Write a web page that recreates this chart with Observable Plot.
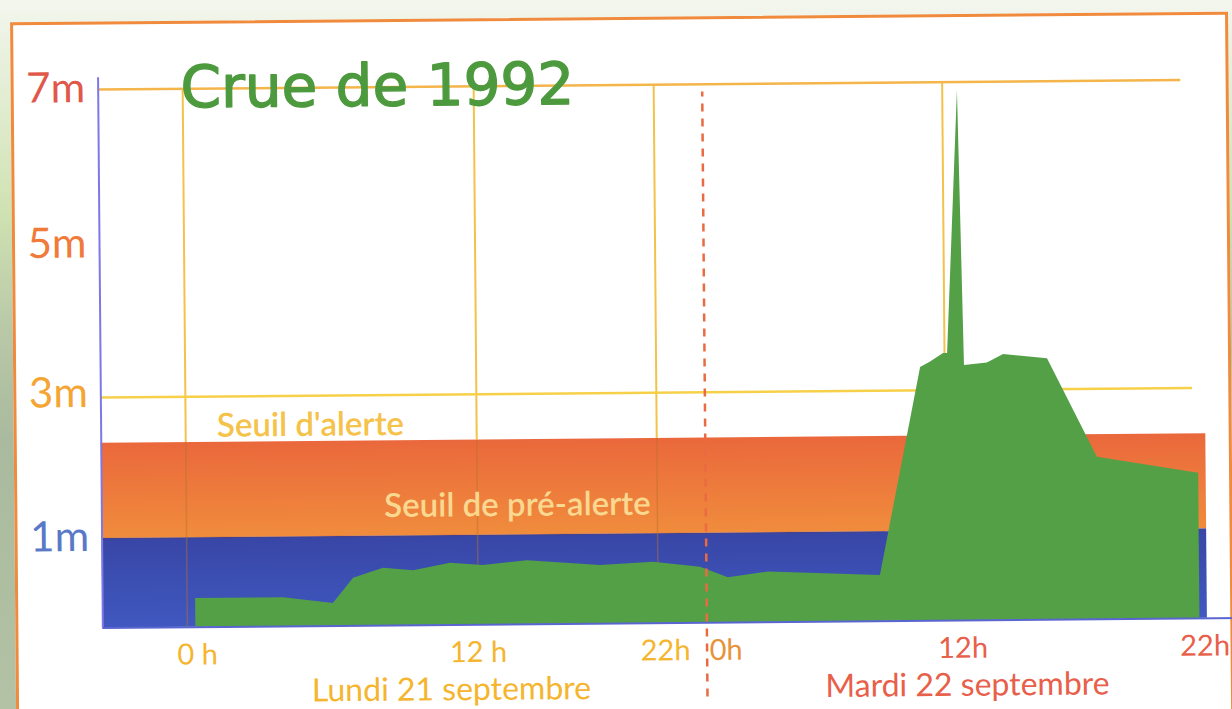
<!DOCTYPE html>
<html><head><meta charset="utf-8">
<script src="https://cdn.jsdelivr.net/npm/d3@7"></script>
<script src="https://cdn.jsdelivr.net/npm/@observablehq/plot@0.6"></script>
<style>
html,body{margin:0;padding:0;width:1232px;height:709px;overflow:hidden;}
body{background:linear-gradient(180deg,#f3f6ee 0%,#e4eed6 12%,#cfe2b2 30%,#b9c9a8 46%,#a9ba9e 62%,#b3c2a4 100%);}
#wrap{position:absolute;left:0;top:0;width:1232px;height:709px;transform:rotate(-0.5deg);transform-origin:616px 354.5px;}
#card{position:absolute;left:13px;top:17px;width:1218px;height:760px;background:#fff;border:3px solid #f08a3c;box-sizing:border-box;}
#chart{position:absolute;left:0;top:0;}
</style></head>
<body><div id="wrap"><div id="card"></div><div id="chart"></div></div>
<script>
// ---- data (hours from Monday 21 Sept 0h, water level in metres) ----
const hours  = [0.35, 3.98, 6.03, 6.87, 8.11, 9.35, 10.87, 12.31, 14.76, 18.82, 21.76, 23.76, 25.1, 27.1, 32.7, 34.8, 35.3, 35.95, 36.12, 36.59, 36.77, 37.66, 38.29, 39.99, 41.89, 45.81];
const levels = [0.32, 0.32, 0.25, 0.53, 0.64, 0.61, 0.69,  0.66,  0.71,  0.65,  0.68,  0.62,  0.50, 0.56, 0.51, 3.30, 3.37, 3.48,  3.48,  6.89,  3.32,  3.35,  3.46,  3.40,  2.03,  1.79];

const preAlerteLevel = 1;      // Seuil de pré-alerte
const alerteLevel = 2.35;      // Seuil d'alerte

const yTickValues = [1, 3, 5, 7];
const yTickLabels = ["1m", "3m", "5m", "7m"];
const xTickHours  = [0, 12, 22, 24, 36, 46];
const xTickLabels = ["0 h", "12 h", "22h", "0h", "12h", "22h"];
const dayLabels   = ["Lundi 21 septembre", "Mardi 22 septembre"];
const gridHours   = [0, 12, 22, 36];
const gridLevels  = [3, 7];
const midnightHour = 24;
const titleText = "Crue de 1992";
const bandLabels = ["Seuil d'alerte", "Seuil de pré-alerte"];

// ---- layout (hand-drawn, piecewise scales) ----
const xBreaks = [-3.5, 0, 12, 22, 24, 36, 46];
const xPixels = [100, 184.5, 475.5, 655.5, 704, 944, 1202];
const yBreaks = [0, 1, 3, 5, 7];
const yPixels = [623, 533.5, 392.5, 240, 84.5];
const xMin = -3.5, bandEnd = 46.1;

const yLabelColor = {"1m": "#5a78c8", "3m": "#f5a534", "5m": "#f07a3a", "7m": "#e0584a"};
const xLabelColor = ["#f5b52e", "#f5b52e", "#f5b52e", "#e8923a", "#e8604a", "#e8604a"];
const xLabelDx = [10, 0, 7, 19, 16, 0];
const dayColor = ["#f5b52e", "#e8604a"];
const dayAnchor = [10.87, 36.78];

const series = hours.map((h, i) => ({h, v: levels[i]}));
const bands = [
  {lo: 0, hi: preAlerteLevel, fill: "url(#gBlue)"},
  {lo: preAlerteLevel, hi: alerteLevel, fill: "url(#gOrange)"}
];

const marks = [
  Plot.rect(bands, {x1: () => xMin, x2: () => bandEnd, y1: "lo", y2: "hi", fill: d => d.fill}),
  Plot.ruleY([preAlerteLevel], {x1: xMin, x2: 33, stroke: "#5a3a6a", strokeOpacity: 0.4, strokeWidth: 1.5}),
  Plot.ruleX(gridHours, {y1: 0, y2: alerteLevel, stroke: "#b8702a", strokeOpacity: 0.45, strokeWidth: 1.5}),
  Plot.ruleX(gridHours, {y1: alerteLevel, y2: 7, stroke: "#f3c24a", strokeWidth: 2}),
  Plot.ruleY([gridLevels[0]], {x1: xMin, x2: 45.6, stroke: "#f7d04a", strokeWidth: 2.5}),
  Plot.ruleY([gridLevels[1]], {x1: xMin, x2: 45.25, stroke: "#f4b54a", strokeWidth: 2.5}),
  Plot.areaY(series, {x: "h", y: "v", fill: "#53a046", curve: "linear"}),
  Plot.ruleX([midnightHour], {y1: -0.83, y2: 6.9, stroke: "#ea6a42", strokeWidth: 2.5, strokeDasharray: "8,7"}),
  Plot.ruleX([xMin], {y1: 0, y2: 7.15, stroke: "#7e78e6", strokeWidth: 2}),
  Plot.ruleY([0], {x1: xMin, x2: 52, stroke: "#5a66d0", strokeWidth: 2}),
  Plot.text([titleText], {x: -0.09, y: 7, text: d => d, textAnchor: "start", lineAnchor: "middle", fontSize: 58, fontFamily: "DejaVu Sans", fill: "#4d9a3e", stroke: "#4d9a3e", strokeWidth: 1.4}),
  Plot.text([bandLabels[0]], {x: 5.15, y: 2.58, text: d => d, fontSize: 33, fontWeight: 600, fontFamily: "Lato", fill: "#f5c24a", lineAnchor: "middle"}),
  Plot.text([bandLabels[1]], {x: 14.23, y: 1.42, text: d => d, fontSize: 33, fontWeight: 600, fontFamily: "Lato", fill: "#fad890", lineAnchor: "middle"})
];

yTickValues.forEach((v, i) => {
  marks.push(Plot.text([yTickLabels[i]], {x: xMin, y: v, text: d => d, dx: -13, dy: v === 3 ? -4 : -1, textAnchor: "end", lineAnchor: "middle", fontSize: 42, fontFamily: "Lato", fill: yLabelColor[yTickLabels[i]]}));
});
xTickHours.forEach((h, i) => {
  marks.push(Plot.text([xTickLabels[i]], {x: h, y: 0, text: d => d, dx: xLabelDx[i], dy: 28, lineAnchor: "middle", fontSize: 29, fontFamily: "Lato", fill: xLabelColor[i]}));
});
dayLabels.forEach((t, i) => {
  marks.push(Plot.text([t], {x: dayAnchor[i], y: 0, text: d => d, dy: 65, lineAnchor: "middle", fontSize: 32, fontFamily: "Lato", fill: dayColor[i]}));
});

const svg = Plot.plot({
  width: 1232, height: 709,
  marginTop: 0, marginRight: 0, marginBottom: 0, marginLeft: 0,
  x: {type: "linear", domain: xBreaks, range: xPixels, axis: null},
  y: {type: "linear", domain: yBreaks, range: yPixels, axis: null},
  style: {background: "transparent", fontFamily: "Lato", overflow: "visible"},
  marks
});

const defs = d3.select(svg).insert("defs", ":first-child");
const gb = defs.append("linearGradient").attr("id", "gBlue").attr("x1", 0).attr("y1", 0).attr("x2", 0).attr("y2", 1);
gb.append("stop").attr("offset", "0%").attr("stop-color", "#3846a6");
gb.append("stop").attr("offset", "100%").attr("stop-color", "#4058c0");
const go = defs.append("linearGradient").attr("id", "gOrange").attr("x1", 0).attr("y1", 0).attr("x2", 0).attr("y2", 1);
go.append("stop").attr("offset", "0%").attr("stop-color", "#ea683c");
go.append("stop").attr("offset", "100%").attr("stop-color", "#f08c3c");

document.getElementById("chart").appendChild(svg);
</script></body></html>
